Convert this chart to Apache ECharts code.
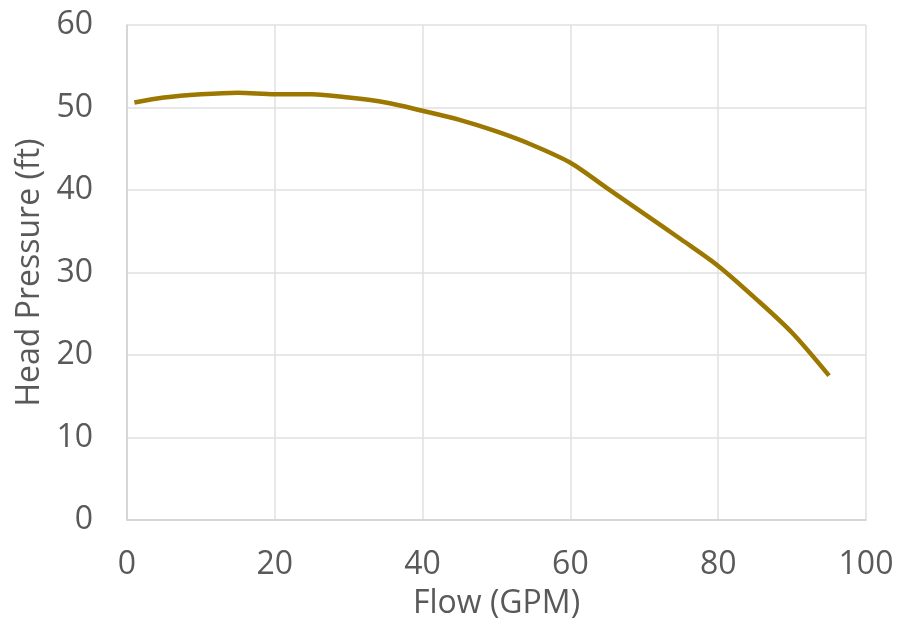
<!DOCTYPE html>
<html>
    <head>
        <meta charset="utf-8">
        <script src="https://cdn.jsdelivr.net/npm/echarts@6/dist/echarts.min.js"></script>
        <style>
            html, body { margin: 0; padding: 0; background: #fff; }
            #main { width: 900px; height: 639px; }
        </style>
    </head>
    <body>
        <div id="main"></div>
        <script>
        // pump curve
        var flow = [1, 5, 10, 15, 20, 25, 30, 35, 40, 45, 50, 55, 60, 65, 70, 75, 80, 85, 90, 95];
        var head = [50.6, 51.2, 51.6, 51.8, 51.6, 51.6, 51.2, 50.6, 49.6, 48.5, 47.1, 45.4, 43.3, 40.2, 37.1, 34.0, 30.8, 26.9, 22.7, 17.5];

        var textColor = '#595959';
        var fontName = 'Open Sans';

        var points = [];
        for (var i = 0; i < flow.length; i++) {
            points.push([flow[i], head[i]]);
        }

        var chart = echarts.init(document.getElementById('main'));
        var option = {
            animation: false,
            grid: {
                left: 127,
                right: 34,
                top: 25,
                bottom: 119,
                containLabel: false
            },
            xAxis: {
                type: 'value',
                min: 0,
                max: 100,
                interval: 20,
                name: 'Flow (GPM)',
                nameLocation: 'middle',
                nameGap: 68,
                nameTextStyle: { color: textColor, fontSize: 32, fontFamily: fontName },
                axisLine: { show: true, lineStyle: { color: '#d0d0d0', width: 1.5 } },
                axisTick: { show: false },
                axisLabel: { color: textColor, fontSize: 32, fontFamily: fontName, margin: 29 },
                splitLine: { show: true, lineStyle: { color: '#e0e0e0', width: 1.5 } }
            },
            yAxis: {
                type: 'value',
                min: 0,
                max: 60,
                interval: 10,
                name: 'Head Pressure (ft)',
                nameLocation: 'middle',
                nameGap: 79,
                nameTextStyle: { color: textColor, fontSize: 32, fontFamily: fontName },
                axisLine: { show: true, lineStyle: { color: '#d0d0d0', width: 1.5 } },
                axisTick: { show: false },
                axisLabel: { color: textColor, fontSize: 32, fontFamily: fontName, margin: 34 },
                splitLine: { show: true, lineStyle: { color: '#e0e0e0', width: 1.5 } }
            },
            series: [
                {
                    type: 'line',
                    data: points,
                    smooth: 0.3,
                    showSymbol: false,
                    lineStyle: { color: '#9c7800', width: 4.5 }
                }
            ]
        };
        chart.setOption(option);
        </script>
    </body>
</html>
